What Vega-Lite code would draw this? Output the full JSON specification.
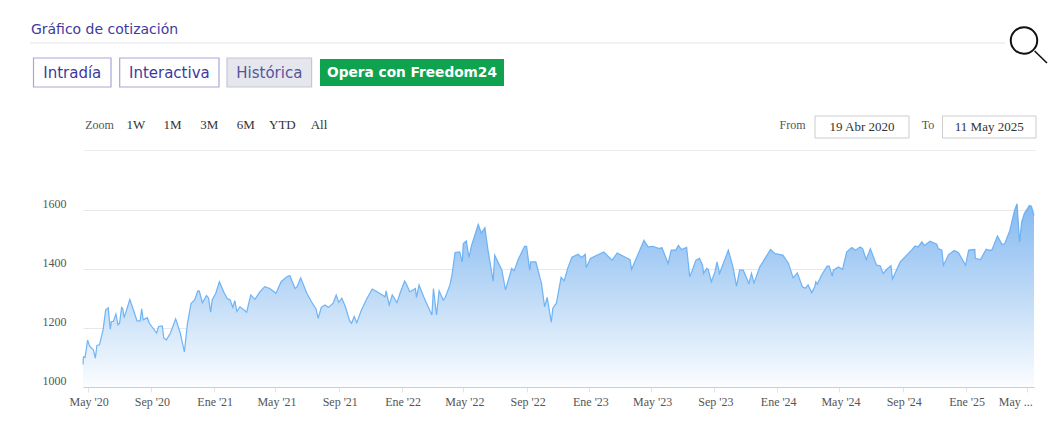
{"$schema":"https://vega.github.io/schema/vega-lite/v6.json","width":951,"height":177,"autosize":{"type":"none"},"padding":{"left":83,"top":210,"right":20,"bottom":49},"background":"#ffffff","config":{"view":{"stroke":null}},"resolve":{"scale":{"x":"independent","y":"independent"}},"layer":[
{"data":{"values":[
{"date":"2020-04-22","close":1076},{"date":"2020-04-23","close":1102},{"date":"2020-04-26","close":1100},{"date":"2020-05-01","close":1159},{"date":"2020-05-05","close":1138},{"date":"2020-05-12","close":1126},{"date":"2020-05-16","close":1098},{"date":"2020-05-19","close":1141},{"date":"2020-05-24","close":1143},{"date":"2020-05-31","close":1194},{"date":"2020-06-05","close":1261},{"date":"2020-06-10","close":1269},{"date":"2020-06-14","close":1196},{"date":"2020-06-16","close":1222},{"date":"2020-06-20","close":1222},{"date":"2020-06-25","close":1247},{"date":"2020-06-29","close":1211},{"date":"2020-07-02","close":1216},{"date":"2020-07-06","close":1270},{"date":"2020-07-08","close":1267},{"date":"2020-07-11","close":1235},{"date":"2020-07-22","close":1297},{"date":"2020-07-30","close":1256},{"date":"2020-08-05","close":1224},{"date":"2020-08-11","close":1224},{"date":"2020-08-14","close":1265},{"date":"2020-08-17","close":1228},{"date":"2020-08-25","close":1235},{"date":"2020-08-29","close":1216},{"date":"2020-09-12","close":1183},{"date":"2020-09-16","close":1205},{"date":"2020-09-23","close":1207},{"date":"2020-09-26","close":1166},{"date":"2020-10-01","close":1160},{"date":"2020-10-09","close":1183},{"date":"2020-10-19","close":1231},{"date":"2020-10-28","close":1183},{"date":"2020-11-05","close":1119},{"date":"2020-11-11","close":1216},{"date":"2020-11-18","close":1284},{"date":"2020-11-25","close":1295},{"date":"2020-12-01","close":1326},{"date":"2020-12-04","close":1325},{"date":"2020-12-10","close":1286},{"date":"2020-12-18","close":1310},{"date":"2020-12-22","close":1302},{"date":"2020-12-26","close":1254},{"date":"2020-12-29","close":1295},
{"date":"2021-01-05","close":1318},{"date":"2021-01-12","close":1357},{"date":"2021-01-21","close":1320},{"date":"2021-01-27","close":1301},{"date":"2021-02-02","close":1295},{"date":"2021-02-07","close":1270},{"date":"2021-02-11","close":1293},{"date":"2021-02-15","close":1256},{"date":"2021-02-21","close":1272},{"date":"2021-02-27","close":1264},{"date":"2021-03-06","close":1254},{"date":"2021-03-14","close":1312},{"date":"2021-03-22","close":1297},{"date":"2021-04-01","close":1323},{"date":"2021-04-10","close":1340},{"date":"2021-04-20","close":1334},{"date":"2021-05-02","close":1318},{"date":"2021-05-12","close":1357},{"date":"2021-05-23","close":1374},{"date":"2021-05-29","close":1378},{"date":"2021-06-08","close":1334},{"date":"2021-06-12","close":1340},{"date":"2021-06-19","close":1370},{"date":"2021-07-01","close":1318},{"date":"2021-07-10","close":1289},{"date":"2021-07-19","close":1264},{"date":"2021-07-23","close":1233},{"date":"2021-07-29","close":1270},{"date":"2021-08-05","close":1278},{"date":"2021-08-12","close":1270},{"date":"2021-08-21","close":1284},{"date":"2021-08-27","close":1312},{"date":"2021-09-01","close":1287},{"date":"2021-09-07","close":1301},{"date":"2021-09-14","close":1272},{"date":"2021-09-22","close":1225},{"date":"2021-09-26","close":1216},{"date":"2021-10-01","close":1239},{"date":"2021-10-06","close":1218},{"date":"2021-10-15","close":1261},{"date":"2021-10-26","close":1301},{"date":"2021-11-05","close":1332},{"date":"2021-11-17","close":1320},{"date":"2021-11-30","close":1306},{"date":"2021-12-02","close":1326},{"date":"2021-12-08","close":1278},{"date":"2021-12-14","close":1312},{"date":"2021-12-23","close":1286},{"date":"2021-12-29","close":1318},
{"date":"2022-01-07","close":1360},{"date":"2022-01-10","close":1351},{"date":"2022-01-17","close":1323},{"date":"2022-01-28","close":1334},{"date":"2022-01-30","close":1304},{"date":"2022-02-04","close":1346},{"date":"2022-02-13","close":1306},{"date":"2022-02-23","close":1267},{"date":"2022-03-01","close":1244},{"date":"2022-03-04","close":1334},{"date":"2022-03-10","close":1244},{"date":"2022-03-15","close":1326},{"date":"2022-03-23","close":1295},{"date":"2022-03-27","close":1304},{"date":"2022-04-05","close":1346},{"date":"2022-04-09","close":1379},{"date":"2022-04-15","close":1456},{"date":"2022-04-24","close":1458},{"date":"2022-04-29","close":1424},{"date":"2022-05-01","close":1486},{"date":"2022-05-07","close":1495},{"date":"2022-05-12","close":1439},{"date":"2022-05-17","close":1480},{"date":"2022-05-30","close":1551},{"date":"2022-06-05","close":1522},{"date":"2022-06-12","close":1540},{"date":"2022-06-18","close":1464},{"date":"2022-06-28","close":1359},{"date":"2022-07-01","close":1447},{"date":"2022-07-15","close":1396},{"date":"2022-07-22","close":1329},{"date":"2022-08-03","close":1402},{"date":"2022-08-08","close":1394},{"date":"2022-08-15","close":1430},{"date":"2022-08-28","close":1477},{"date":"2022-09-01","close":1477},{"date":"2022-09-07","close":1396},{"date":"2022-09-09","close":1424},{"date":"2022-09-19","close":1424},{"date":"2022-09-30","close":1351},{"date":"2022-10-06","close":1272},{"date":"2022-10-11","close":1304},{"date":"2022-10-19","close":1220},{"date":"2022-10-22","close":1267},{"date":"2022-10-29","close":1284},{"date":"2022-11-07","close":1372},{"date":"2022-11-13","close":1360},{"date":"2022-11-20","close":1403},{"date":"2022-11-28","close":1440},{"date":"2022-12-10","close":1450},{"date":"2022-12-17","close":1439},{"date":"2022-12-24","close":1450},{"date":"2022-12-26","close":1405},
{"date":"2023-01-03","close":1436},{"date":"2023-01-29","close":1458},{"date":"2023-02-14","close":1430},{"date":"2023-02-24","close":1454},{"date":"2023-03-21","close":1432},{"date":"2023-03-24","close":1399},{"date":"2023-04-17","close":1497},{"date":"2023-04-25","close":1475},{"date":"2023-05-04","close":1477},{"date":"2023-05-17","close":1469},{"date":"2023-05-22","close":1473},{"date":"2023-06-03","close":1419},{"date":"2023-06-09","close":1464},{"date":"2023-06-18","close":1464},{"date":"2023-06-23","close":1480},{"date":"2023-06-29","close":1466},{"date":"2023-07-09","close":1473},{"date":"2023-07-15","close":1374},{"date":"2023-07-20","close":1396},{"date":"2023-07-27","close":1430},{"date":"2023-08-03","close":1436},{"date":"2023-08-09","close":1413},{"date":"2023-08-11","close":1385},{"date":"2023-08-17","close":1402},{"date":"2023-08-20","close":1399},{"date":"2023-08-26","close":1357},{"date":"2023-09-02","close":1390},{"date":"2023-09-06","close":1424},{"date":"2023-09-11","close":1385},{"date":"2023-09-28","close":1464},{"date":"2023-10-07","close":1407},{"date":"2023-10-14","close":1342},{"date":"2023-10-20","close":1396},{"date":"2023-10-27","close":1396},{"date":"2023-11-07","close":1351},{"date":"2023-11-12","close":1385},{"date":"2023-11-17","close":1353},{"date":"2023-11-28","close":1407},{"date":"2023-12-19","close":1466},{"date":"2023-12-28","close":1452},
{"date":"2024-01-12","close":1447},{"date":"2024-01-23","close":1419},{"date":"2024-02-01","close":1370},{"date":"2024-02-09","close":1387},{"date":"2024-02-19","close":1340},{"date":"2024-02-25","close":1335},{"date":"2024-03-01","close":1346},{"date":"2024-03-08","close":1320},{"date":"2024-03-14","close":1340},{"date":"2024-03-16","close":1357},{"date":"2024-03-19","close":1349},{"date":"2024-03-27","close":1379},{"date":"2024-04-07","close":1410},{"date":"2024-04-11","close":1410},{"date":"2024-04-17","close":1376},{"date":"2024-04-19","close":1396},{"date":"2024-04-29","close":1407},{"date":"2024-05-07","close":1399},{"date":"2024-05-15","close":1458},{"date":"2024-05-25","close":1473},{"date":"2024-06-01","close":1464},{"date":"2024-06-10","close":1475},{"date":"2024-06-15","close":1469},{"date":"2024-06-22","close":1432},{"date":"2024-06-30","close":1469},{"date":"2024-07-12","close":1413},{"date":"2024-07-19","close":1411},{"date":"2024-07-25","close":1385},{"date":"2024-08-01","close":1399},{"date":"2024-08-09","close":1411},{"date":"2024-08-12","close":1366},{"date":"2024-08-27","close":1424},{"date":"2024-09-18","close":1464},{"date":"2024-09-25","close":1478},{"date":"2024-10-01","close":1475},{"date":"2024-10-08","close":1492},{"date":"2024-10-13","close":1480},{"date":"2024-10-24","close":1494},{"date":"2024-11-06","close":1484},{"date":"2024-11-09","close":1469},{"date":"2024-11-16","close":1464},{"date":"2024-11-19","close":1413},{"date":"2024-11-29","close":1449},{"date":"2024-12-10","close":1463},{"date":"2024-12-18","close":1456},
{"date":"2025-01-01","close":1413},{"date":"2025-01-07","close":1464},{"date":"2025-01-19","close":1466},{"date":"2025-01-20","close":1436},{"date":"2025-01-30","close":1432},{"date":"2025-02-10","close":1467},{"date":"2025-02-15","close":1464},{"date":"2025-02-21","close":1464},{"date":"2025-02-26","close":1486},{"date":"2025-03-04","close":1512},{"date":"2025-03-13","close":1483},{"date":"2025-03-18","close":1486},{"date":"2025-03-28","close":1531},{"date":"2025-04-06","close":1598},{"date":"2025-04-11","close":1621},{"date":"2025-04-16","close":1492},{"date":"2025-04-20","close":1559},{"date":"2025-04-25","close":1587},{"date":"2025-05-05","close":1615},{"date":"2025-05-09","close":1613},{"date":"2025-05-14","close":1582}
]},
"encoding":{
"x":{"field":"date","type":"temporal","title":null,"scale":{"domain":[{"year":2020,"month":4,"date":22},{"year":2025,"month":5,"date":14}]},"axis":{"values":[{"year":2020,"month":5,"date":1},{"year":2020,"month":9,"date":1},{"year":2021,"month":1,"date":1},{"year":2021,"month":5,"date":1},{"year":2021,"month":9,"date":1},{"year":2022,"month":1,"date":1},{"year":2022,"month":5,"date":1},{"year":2022,"month":9,"date":1},{"year":2023,"month":1,"date":1},{"year":2023,"month":5,"date":1},{"year":2023,"month":9,"date":1},{"year":2024,"month":1,"date":1},{"year":2024,"month":5,"date":1},{"year":2024,"month":9,"date":1},{"year":2025,"month":1,"date":1},{"year":2025,"month":5,"date":1}],"labelExpr":"year(datum.value)==2025&&month(datum.value)==4?'May ...':['Ene','','','','May','','','','Sep'][month(datum.value)]+\" '\"+timeFormat(datum.value,'%y')","labelFont":"Liberation Serif","labelFontSize":12,"labelColor":"#555555","labelPadding":4,"labelOverlap":false,"labelFlush":false,"labelOffset":{"condition":{"test":"year(datum.value)==2025&&month(datum.value)==4","value":-12},"value":1},"domainColor":"#c9ced8","tickColor":"#e4e4e4","tickSize":5,"grid":false}},
"y":{"field":"close","type":"quantitative","title":null,"scale":{"domain":[1000,1600],"nice":false,"zero":false},"axis":{"values":[1000,1200,1400,1600],"format":"d","labelFont":"Liberation Serif","labelFontSize":12,"labelColor":"#555555","labelPadding":17,"labelOffset":-7,"tickSize":0,"domain":false,"grid":true,"gridColor":"#e8e8e8"}}},
"layer":[
{"mark":{"type":"area","color":{"x1":1,"y1":0,"x2":1,"y2":1,"gradient":"linear","stops":[{"offset":0,"color":"#85b9f1"},{"offset":0.45,"color":"#b9d7f6"},{"offset":1,"color":"#fbfdff"}]}},"encoding":{"y2":{"datum":1000}}},
{"mark":{"type":"line","color":"#62adf4","strokeWidth":1.2,"opacity":0.9}}]},
{"data":{"values":[{"item":"Gráfico de cotización"}]},"encoding":{"x":{"field":"item","type":"nominal","axis":null,"scale":{"range":[-53,96],"paddingInner":0,"paddingOuter":0}},"y":{"field":"item","type":"nominal","axis":null,"scale":{"range":[-188,-173],"paddingInner":0,"paddingOuter":0}},"text":{"field":"item"}},"mark":{"type":"text","font":"DejaVu Sans","fontSize":14,"color":"#3e3a9e"}},
{"data":{"values":[{"item":"title rule"}]},"encoding":{"x":{"field":"item","type":"nominal","axis":null,"scale":{"range":[-53,922],"paddingInner":0,"paddingOuter":0}},"y":{"field":"item","type":"nominal","axis":null,"scale":{"range":[-167.5,-166.5],"paddingInner":0,"paddingOuter":0}}},"mark":{"type":"rect","fill":"#e6e6e6"}},
{"data":{"values":[{"item":"toolbar rule"}]},"encoding":{"x":{"field":"item","type":"nominal","axis":null,"scale":{"range":[1,953],"paddingInner":0,"paddingOuter":0}},"y":{"field":"item","type":"nominal","axis":null,"scale":{"range":[-60,-59],"paddingInner":0,"paddingOuter":0}}},"mark":{"type":"rect","fill":"#ececec"}},
{"data":{"values":[{"item":"Intradía"}]},"encoding":{"x":{"field":"item","type":"nominal","axis":null,"scale":{"range":[-49.5,28],"paddingInner":0,"paddingOuter":0}},"y":{"field":"item","type":"nominal","axis":null,"scale":{"range":[-152,-123],"paddingInner":0,"paddingOuter":0}}},"layer":[{"mark":{"type":"rect","fill":"#ffffff","stroke":"#a9a7d6","strokeWidth":1.2}},{"mark":{"type":"text","font":"DejaVu Sans","fontSize":15,"color":"#3e3a9e"},"encoding":{"text":{"field":"item"}}}]},
{"data":{"values":[{"item":"Interactiva"}]},"encoding":{"x":{"field":"item","type":"nominal","axis":null,"scale":{"range":[36.7,136],"paddingInner":0,"paddingOuter":0}},"y":{"field":"item","type":"nominal","axis":null,"scale":{"range":[-152,-123],"paddingInner":0,"paddingOuter":0}}},"layer":[{"mark":{"type":"rect","fill":"#ffffff","stroke":"#a9a7d6","strokeWidth":1.2}},{"mark":{"type":"text","font":"DejaVu Sans","fontSize":15,"color":"#3e3a9e"},"encoding":{"text":{"field":"item"}}}]},
{"data":{"values":[{"item":"Histórica"}]},"encoding":{"x":{"field":"item","type":"nominal","axis":null,"scale":{"range":[144,228.6],"paddingInner":0,"paddingOuter":0}},"y":{"field":"item","type":"nominal","axis":null,"scale":{"range":[-152,-123],"paddingInner":0,"paddingOuter":0}}},"layer":[{"mark":{"type":"rect","fill":"#e6e6ee","stroke":"#c6c6d2","strokeWidth":1.2}},{"mark":{"type":"text","font":"DejaVu Sans","fontSize":15,"color":"#55559a"},"encoding":{"text":{"field":"item"}}}]},
{"data":{"values":[{"item":"Opera con Freedom24"}]},"encoding":{"x":{"field":"item","type":"nominal","axis":null,"scale":{"range":[237,421],"paddingInner":0,"paddingOuter":0}},"y":{"field":"item","type":"nominal","axis":null,"scale":{"range":[-151,-124],"paddingInner":0,"paddingOuter":0}}},"layer":[{"mark":{"type":"rect","fill":"#0fa24f"}},{"mark":{"type":"text","font":"DejaVu Sans","fontSize":13.7,"fontWeight":"bold","color":"#ffffff"},"encoding":{"text":{"field":"item"}}}]},
{"data":{"values":[{"item":"Zoom"}]},"encoding":{"x":{"field":"item","type":"nominal","axis":null,"scale":{"range":[0.5,32.5],"paddingInner":0,"paddingOuter":0}},"y":{"field":"item","type":"nominal","axis":null,"scale":{"range":[-96,-74],"paddingInner":0,"paddingOuter":0}},"text":{"field":"item"}},"mark":{"type":"text","font":"Liberation Serif","fontSize":12,"color":"#555555"}},
{"data":{"values":[{"item":"1W","row":"range"},{"item":"1M","row":"range"},{"item":"3M","row":"range"},{"item":"6M","row":"range"},{"item":"YTD","row":"range"},{"item":"All","row":"range"}]},"encoding":{"x":{"field":"item","type":"nominal","axis":null,"sort":null,"scale":{"type":"point","domain":["1W","1M","3M","6M","YTD","All"],"range":[53,236],"padding":0}},"y":{"field":"row","type":"nominal","axis":null,"scale":{"range":[-96,-74],"paddingInner":0,"paddingOuter":0}},"text":{"field":"item"}},"mark":{"type":"text","font":"Liberation Serif","fontSize":13,"color":"#333333"}},
{"data":{"values":[{"item":"From"}]},"encoding":{"x":{"field":"item","type":"nominal","axis":null,"scale":{"range":[700,719],"paddingInner":0,"paddingOuter":0}},"y":{"field":"item","type":"nominal","axis":null,"scale":{"range":[-96,-74],"paddingInner":0,"paddingOuter":0}},"text":{"field":"item"}},"mark":{"type":"text","font":"Liberation Serif","fontSize":12,"color":"#555555"}},
{"data":{"values":[{"item":"To"}]},"encoding":{"x":{"field":"item","type":"nominal","axis":null,"scale":{"range":[835,855],"paddingInner":0,"paddingOuter":0}},"y":{"field":"item","type":"nominal","axis":null,"scale":{"range":[-96,-74],"paddingInner":0,"paddingOuter":0}},"text":{"field":"item"}},"mark":{"type":"text","font":"Liberation Serif","fontSize":12,"color":"#555555"}},
{"data":{"values":[{"item":"19 Abr 2020"}]},"encoding":{"x":{"field":"item","type":"nominal","axis":null,"scale":{"range":[732,826],"paddingInner":0,"paddingOuter":0}},"y":{"field":"item","type":"nominal","axis":null,"scale":{"range":[-94,-72],"paddingInner":0,"paddingOuter":0}}},"layer":[{"mark":{"type":"rect","fill":"#ffffff","stroke":"#cccccc","strokeWidth":1}},{"mark":{"type":"text","font":"Liberation Serif","fontSize":13,"color":"#333333"},"encoding":{"text":{"field":"item"}}}]},
{"data":{"values":[{"item":"11 May 2025"}]},"encoding":{"x":{"field":"item","type":"nominal","axis":null,"scale":{"range":[859.5,953],"paddingInner":0,"paddingOuter":0}},"y":{"field":"item","type":"nominal","axis":null,"scale":{"range":[-94,-72],"paddingInner":0,"paddingOuter":0}}},"layer":[{"mark":{"type":"rect","fill":"#ffffff","stroke":"#cccccc","strokeWidth":1}},{"mark":{"type":"text","font":"Liberation Serif","fontSize":13,"color":"#333333"},"encoding":{"text":{"field":"item"}}}]},
{"data":{"values":[{"item":"lens"}]},"encoding":{"x":{"field":"item","type":"nominal","axis":null,"scale":{"range":[940,942],"paddingInner":0,"paddingOuter":0}},"y":{"field":"item","type":"nominal","axis":null,"scale":{"range":[-170.5,-168.5],"paddingInner":0,"paddingOuter":0}}},"mark":{"type":"point","filled":false,"stroke":"#111111","strokeWidth":2,"size":700,"opacity":1}},
{"data":{"values":[{"item":"lens edge"},{"item":"handle end"}]},"encoding":{"x":{"field":"item","type":"nominal","axis":null,"sort":null,"scale":{"type":"point","domain":["lens edge","handle end"],"range":[951.6,964],"padding":0}},"y":{"field":"item","type":"nominal","axis":null,"sort":null,"scale":{"type":"point","domain":["lens edge","handle end"],"range":[-159,-147],"padding":0}}},"mark":{"type":"line","color":"#111111","strokeWidth":1.6}}
]}
